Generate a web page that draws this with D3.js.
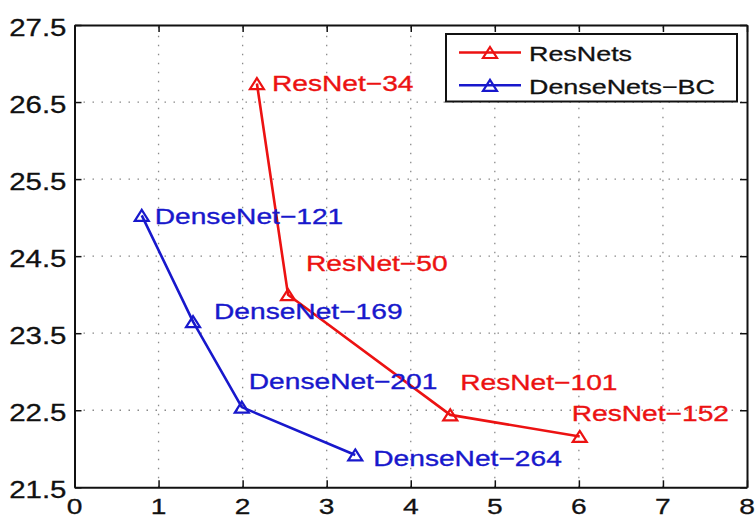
<!DOCTYPE html>
<html>
<head>
<meta charset="utf-8">
<script src="https://cdn.jsdelivr.net/npm/d3@7"></script>
<style>
  html, body { margin: 0; padding: 0; background: #fff; }
  svg { display: block; }
  text { font-family: "Liberation Sans", Arial, Helvetica, sans-serif; }
</style>
</head>
<body>
<svg id="chart" width="755" height="519"></svg>
<script>
// Top-1 error (%) vs. parameters for ResNets and DenseNets-BC
const xTicks = [0, 1, 2, 3, 4, 5, 6, 7, 8];
const yTicks = [21.5, 22.5, 23.5, 24.5, 25.5, 26.5, 27.5];

const resNames = ["ResNet\u221234", "ResNet\u221250", "ResNet\u2212101", "ResNet\u2212152"];
const resX = [2.17, 2.54, 4.47, 6.01];
const resY = [26.74, 24.00, 22.44, 22.16];

const denseNames = ["DenseNet\u2212121", "DenseNet\u2212169", "DenseNet\u2212201", "DenseNet\u2212264"];
const denseX = [0.80, 1.41, 1.99, 3.34];
const denseY = [25.03, 23.65, 22.54, 21.92];

const seriesNames = ["ResNets", "DenseNets\u2212BC"];

// layout
const W = 755, H = 519;
const m = { left: 74.5, right: 8, top: 25, bottom: 31.7 };
const SX = 1.28; // horizontal text stretch
const RED = "#ec1212", BLUE = "#1818cc";

// label placement relative to each marker (px)
const resLabelOff = [[15, 0], [18, -32], [10, -33], [-8, -23]];
const denseLabelOff = [[13, 1], [21, -10], [7, -26], [18, 3]];

const svg = d3.select("#chart");
const x = d3.scaleLinear().domain([0, 8]).range([m.left, W - m.right]);
const y = d3.scaleLinear().domain([21.5, 27.5]).range([H - m.bottom, m.top]);

const x0 = x.range()[0], x1 = x.range()[1];
const y0 = y.range()[0], y1 = y.range()[1];

// dotted grid
const grid = svg.append("g").attr("stroke", "#8a8a8a").attr("stroke-width", 1.3)
  .attr("stroke-dasharray", "1.5,7.5");
grid.selectAll("line.gx").data(xTicks.slice(1, -1)).join("line")
  .attr("x1", d => x(d)).attr("x2", d => x(d)).attr("y1", y0).attr("y2", y1);
grid.selectAll("line.gy").data(yTicks.slice(1, -1)).join("line")
  .attr("y1", d => y(d)).attr("y2", d => y(d)).attr("x1", x0).attr("x2", x1);

// axes with inward ticks on all four sides
const tickLen = 7;
const axB = svg.append("g").attr("transform", `translate(0,${y0})`)
  .call(d3.axisBottom(x).tickValues(xTicks).tickSizeInner(-tickLen).tickSizeOuter(0).tickFormat(""));
const axT = svg.append("g").attr("transform", `translate(0,${y1})`)
  .call(d3.axisTop(x).tickValues(xTicks).tickSizeInner(-tickLen).tickSizeOuter(0).tickFormat(""));
const axL = svg.append("g").attr("transform", `translate(${x0},0)`)
  .call(d3.axisLeft(y).tickValues(yTicks).tickSizeInner(-tickLen).tickSizeOuter(0).tickFormat(""));
const axR = svg.append("g").attr("transform", `translate(${x1},0)`)
  .call(d3.axisRight(y).tickValues(yTicks).tickSizeInner(-tickLen).tickSizeOuter(0).tickFormat(""));
[axB, axT, axL, axR].forEach(a => {
  a.selectAll(".domain").attr("stroke", "#111").attr("stroke-width", 2);
  a.selectAll(".tick line").attr("stroke", "#111").attr("stroke-width", 1.5);
});

// tick labels
svg.append("g").selectAll("text").data(xTicks).join("text")
  .attr("transform", d => `translate(${x(d)},${y0 + 19}) scale(${SX},1)`)
  .attr("text-anchor", "middle").attr("dominant-baseline", "central")
  .attr("font-size", 22).attr("fill", "#111")
  .attr("stroke", "#111").attr("stroke-width", 0.3).text(d => d);
svg.append("g").selectAll("text").data(yTicks).join("text")
  .attr("transform", d => `translate(${x0 - 8},${y(d) + 3}) scale(${SX},1)`)
  .attr("text-anchor", "end").attr("dominant-baseline", "central")
  .attr("font-size", 23).attr("fill", "#111")
  .attr("stroke", "#111").attr("stroke-width", 0.3).text(d => d.toFixed(1));

const tri = "M0,-5.5L7,5.5L-7,5.5Z";

function drawSeries(xs, ys, names, offs, color) {
  const pts = xs.map((v, i) => [v, ys[i]]);
  const g = svg.append("g");
  g.append("path").datum(pts)
    .attr("d", d3.line().x(d => x(d[0])).y(d => y(d[1])))
    .attr("fill", "none").attr("stroke", color).attr("stroke-width", 2.6)
    .attr("stroke-linejoin", "round");
  g.selectAll("path.mk").data(pts).join("path")
    .attr("class", "mk")
    .attr("transform", d => `translate(${x(d[0])},${y(d[1])})`)
    .attr("d", tri).attr("fill", "none").attr("stroke", color).attr("stroke-width", 2.2);
  g.selectAll("text").data(pts).join("text")
    .attr("transform", (d, i) => `translate(${x(d[0]) + offs[i][0]},${y(d[1]) + offs[i][1]}) scale(${SX},1)`)
    .attr("dominant-baseline", "central")
    .attr("font-size", 22).attr("fill", color)
    .attr("stroke", color).attr("stroke-width", 0.35)
    .text((d, i) => names[i]);
}
drawSeries(resX, resY, resNames, resLabelOff, RED);
drawSeries(denseX, denseY, denseNames, denseLabelOff, BLUE);

// legend
const lg = svg.append("g");
lg.append("rect").attr("x", 446).attr("y", 34).attr("width", 291).attr("height", 67.5)
  .attr("fill", "#fff").attr("stroke", "#111").attr("stroke-width", 2);
[RED, BLUE].forEach((c, i) => {
  const ly = 52.5 + i * 32.8;
  lg.append("line").attr("x1", 459).attr("x2", 521).attr("y1", ly).attr("y2", ly)
    .attr("stroke", c).attr("stroke-width", 2.6);
  lg.append("path").attr("transform", `translate(490,${ly})`).attr("d", tri)
    .attr("fill", "none").attr("stroke", c).attr("stroke-width", 2.2);
  lg.append("text").attr("transform", `translate(529,${ly + 1}) scale(${SX},1)`)
    .attr("dominant-baseline", "central").attr("font-size", 21).attr("fill", "#111")
    .attr("stroke", "#111").attr("stroke-width", 0.3)
    .text(seriesNames[i]);
});
</script>
</body>
</html>
